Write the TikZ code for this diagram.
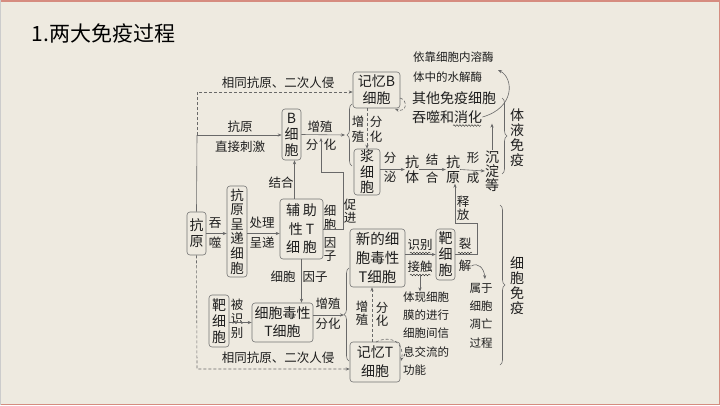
\documentclass[tikz,border=0pt]{standalone}
\usepackage{fontspec}
\setmainfont{Noto Sans CJK SC}
\usetikzlibrary{calc,arrows.meta,decorations.pathreplacing,decorations.pathmorphing}
\definecolor{bgbeige}{RGB}{238,234,224}
\definecolor{framepink}{RGB}{214,140,128}
\definecolor{linegray}{RGB}{105,105,105}
\definecolor{boxgray}{RGB}{115,115,115}
\definecolor{inkgray}{RGB}{30,30,30}
\newcommand{\titlefont}{\fontsize{21}{24}\selectfont}
\newcommand{\boxfont}{\fontsize{14}{16}\selectfont}
\newcommand{\lblfont}{\fontsize{12.5}{15}\selectfont}
\newcommand{\notefont}{\fontsize{11.5}{18.3}\selectfont}

\begin{document}
\begin{tikzpicture}[x=1pt,y=-1pt,
  cell/.style={draw=boxgray, rounded corners=3pt, line width=0.6pt, inner sep=0pt, align=center, font=\boxfont, text=inkgray},
  lbl/.style={inner sep=0pt, align=center, font=\lblfont, text=inkgray},
  note/.style={inner sep=0pt, align=left, font=\notefont, text=inkgray},
  arr/.style={-{Stealth[length=4pt,width=3.2pt]}, draw=linegray, line width=0.6pt},
  darr/.style={arr, dash pattern=on 3pt off 2pt},
  lin/.style={draw=linegray, line width=0.6pt},
  brc/.style={draw=linegray, line width=0.6pt, decorate, decoration={brace, amplitude=5pt}},
  wavy/.style={draw=inkgray, line width=0.4pt, decorate, decoration={snake, amplitude=0.8pt, segment length=3pt}}
]
\useasboundingbox (0,0) rectangle (720,405);
\fill[bgbeige] (0,0) rectangle (720,405);
\draw[framepink, line width=1.5pt] (0,0.75) -- (719.25,0.75) -- (719.25,404.25) -- (0,404.25);
\draw[gray!40, line width=0.8pt] (0.4,0) -- (0.4,405);
\node[anchor=west, font=\titlefont, text=black] (title) at (28,33) {1.两大免疫过程};

% ---- cells
\node[cell, minimum width=19pt, minimum height=43pt] (antigen) at (196.5,233.5) {抗\\原};
\node[cell, minimum width=20pt, minimum height=91pt, font=\fontsize{13.5}{14.6}\selectfont] (apc) at (237,231.5) {抗\\原\\呈\\递\\细\\胞};
\node[cell, minimum width=43pt, minimum height=60pt, font=\fontsize{14}{18.5}\selectfont] (th) at (301.5,229) {辅\hspace{3pt}助\\性\hspace{3pt}T\\细\hspace{3pt}胞};
\node[cell, minimum width=19pt, minimum height=51pt] (bcell) at (291.5,134.5) {B\\细\\胞};
\node[cell, minimum width=47pt, minimum height=36pt, font=\fontsize{14}{17}\selectfont] (memb) at (376.5,90) {记忆B\\细胞};
\node[cell, minimum width=26pt, minimum height=46pt, font=\fontsize{14}{15.5}\selectfont] (plasma) at (367,172) {浆\\细\\胞};
\node[cell, minimum width=20pt, minimum height=52pt] (tgt1) at (219,321) {靶\\细\\胞};
\node[cell, minimum width=61pt, minimum height=39pt, font=\fontsize{14}{18}\selectfont] (ctl) at (282.5,322.5) {细胞毒性\\T细胞};
\node[cell, minimum width=55pt, minimum height=58pt, font=\fontsize{14.5}{19}\selectfont] (newctl) at (377.5,258) {新的细\\胞毒性\\T细胞};
\node[cell, minimum width=19pt, minimum height=51pt] (tgt2) at (445.5,254.5) {靶\\细\\胞};
\node[cell, minimum width=50pt, minimum height=40pt, font=\fontsize{14}{19}\selectfont] (memt) at (375,362) {记忆T\\细胞};

% ---- humoral chain
\node[lbl, font=\fontsize{14}{15}\selectfont] (ab) at (412,169.5) {抗\\体};
\node[lbl, font=\fontsize{14}{15}\selectfont] (ag2) at (453,169.5) {抗\\原};
\node[lbl, font=\fontsize{14}{14}\selectfont] (precip) at (492,171) {沉\\淀\\等};
\node[lbl, anchor=west, font=\fontsize{14}{16}\selectfont] (others) at (412,98) {其他免疫细胞};
\node[lbl, anchor=west, font=\fontsize{14}{16}\selectfont] (engulf) at (412,117) {吞噬和消化};
\node[note, anchor=west] (lyso1) at (413,57) {依靠细胞内溶酶};
\node[note, anchor=west] (lyso2) at (413,77) {体中的水解酶};
\node[lbl, font=\fontsize{14}{15}\selectfont] (humoral) at (517,137.5) {体\\液\\免\\疫};
\node[lbl, font=\fontsize{14}{15}\selectfont] (cellular) at (517,286) {细\\胞\\免\\疫};
\node[note, anchor=west] (express) at (403,333.5) {体现细胞\\膜的进行\\细胞间信\\息交流的\\功能};
\node[note, align=center] (apop) at (481,315.5) {属于\\细胞\\凋亡\\过程};

% ---- labels
\node[lbl] (reinvB) at (278,83) {相同抗原、二次人侵};
\node[lbl] (reinvT) at (278,358) {相同抗原、二次人侵};
\node[lbl] (agdirect) at (240,127) {抗原};
\node[lbl] (stim) at (240,147) {直接刺激};
\node[lbl] (prolB) at (320,127) {增殖};
\node[lbl] (difB1) at (312,145) {分};
\node[lbl] (difB2) at (330,145) {化};
\node[lbl, font=\fontsize{12.5}{15}\selectfont] (prolM) at (358,129.5) {增\\殖};
\node[lbl, font=\fontsize{12.5}{15}\selectfont] (difM) at (376,129.5) {分\\化};
\node[lbl] (bind1) at (281,183) {结合};
\node[lbl, font=\fontsize{12.5}{20}\selectfont] (phago) at (215,233) {吞\\噬};
\node[lbl] (proc) at (262,223) {处理};
\node[lbl] (pres) at (262,243) {呈递};
\node[lbl, font=\fontsize{12.5}{14}\selectfont] (cyto1) at (330,218) {细\\胞};
\node[lbl, font=\fontsize{12.5}{13}\selectfont] (cyto2) at (330,249.5) {因\\子};
\node[lbl, font=\fontsize{12.5}{13}\selectfont] (promo) at (350,211.5) {促\\进};
\node[lbl] (cyto3) at (283,277) {细胞};
\node[lbl] (cyto4) at (315,277) {因子};
\node[lbl, font=\fontsize{12.5}{14}\selectfont] (recog1) at (237,319) {被\\识\\别};
\node[lbl] (prolC) at (328,304) {增殖};
\node[lbl] (difC) at (328,324) {分化};
\node[lbl, font=\fontsize{12.5}{13}\selectfont] (prolT) at (362,313.5) {增\\殖};
\node[lbl, font=\fontsize{12.5}{13}\selectfont] (difT) at (382,314) {分\\化};
\node[lbl, font=\fontsize{12.5}{19}\selectfont] (secr) at (390,167.5) {分\\泌};
\node[lbl, font=\fontsize{12.5}{18}\selectfont] (bind2) at (432,169) {结\\合};
\node[lbl, font=\fontsize{12.5}{20}\selectfont] (form) at (473,168) {形\\成};
\node[lbl] (recog2) at (420,245) {识别};
\node[lbl] (contact) at (420,267) {接触};
\node[lbl] (lysis1) at (465,244) {裂};
\node[lbl] (lysis2) at (465,266) {解};
\node[lbl, font=\fontsize{12.5}{13}\selectfont] (rel) at (463,208.5) {释\\放};

% ---- wavy marks
\draw[wavy] (453,125.5) -- (481,125.5);
\draw[wavy] (410,253) -- (431,253);
\draw[wavy] (410,275) -- (431,275);
\draw[wavy] (458,253) -- (472,253);

% ---- connectors
\coordinate (jtop) at (197,135);
\coordinate (jdash) at (197,92);
\coordinate (jbot) at (197,369);
\draw[lin] (antigen.north) -- (jtop);
\draw[arr] (jtop) -- (jtop -| bcell.west);
\draw[darr] (jtop) -- (jdash) -- (jdash -| memb.west);
\draw[darr] (antigen.south) -- (jbot) -- (jbot -| memt.west);
\coordinate (tipB) at (345,135);
\draw[arr] (bcell.east) -- (tipB);
\draw[brc] (352,166) -- (352,104);
\draw[darr] (plasma.north |- memb.south) -- (plasma.north);
\draw[darr] (400,98) .. controls (408,100) and (407,113) .. (395,109);
\draw[arr] ([xshift=3pt]bcell.south |- th.north) -- ([xshift=3pt]bcell.south);
\coordinate (promote) at (321,138);
\draw[arr] (th.east) -| (343,172) -| (promote);
\draw[arr] (th.south) -- (th.south |- ctl.north);
\draw[arr] (antigen.east) -- (antigen.east -| apc.west);
\draw[arr] (apc.east |- antigen.east) -- (antigen.east -| th.west);
\draw[arr] (tgt1.east |- ctl.west) -- (ctl.west);
\coordinate (tipT) at (344,315);
\draw[arr] (ctl.east |- tipT) -- (tipT);
\draw[brc] (349,361) -- (349,268);
\draw[darr] ([xshift=-3pt]memt.north) -- ([xshift=-3pt]memt.north |- newctl.south);
\draw[darr] (376,342) .. controls (392,334) and (405,344) .. (401,361);
\draw[arr] (newctl.east |- tgt2.west) -- (tgt2.west);
\draw[arr] (tgt2.east) -| (477,223) -| ([xshift=2pt]ag2.south);
\draw[arr] ([yshift=-2pt]contact.south) -- (contact.south |- express.north);
\coordinate (apoptip) at (485,279);
\draw[arr] (lysis2.east) .. controls (478,262) and (484,268) .. (apoptip);
\draw[arr] (plasma.east |- ab.west) -- (ab.west);
\draw[arr] (ab.east) -- (ag2.west);
\draw[arr] (ag2.east) -- (precip.west);
\draw[arr] (precip.north) -- (precip.north |- engulf.south);
\coordinate (lysotip) at (498,70);
\draw[arr] (engulf.east) .. controls (515,108) and (514,78) .. (lysotip);
\draw[brc] (502,98) -- (502,174);
\draw[brc] (500,205) -- (500,365);
\end{tikzpicture}
\end{document}
